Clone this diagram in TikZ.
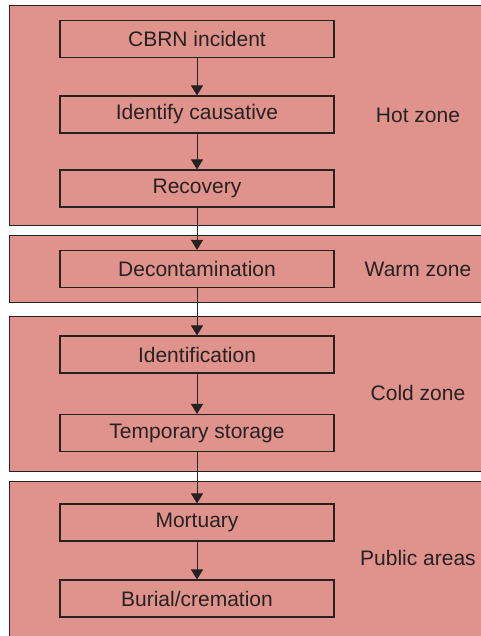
\documentclass[tikz,border=0pt]{standalone}
\usepackage{fontspec}
\setmainfont{Liberation Sans}
\usetikzlibrary{arrows.meta}
\definecolor{zonefill}{RGB}{224,146,140}
\definecolor{ink}{RGB}{38,34,34}
\begin{document}
\begin{tikzpicture}[x=1pt,y=-1pt,
  zone/.style={fill=zonefill,draw=ink,line width=0.9pt},
  stepbox/.style={draw=ink,line width=1.1pt,minimum width=274pt,minimum height=37pt,
    inner sep=0pt,font=\fontsize{21}{25}\selectfont,text=ink},
  zonelabel/.style={font=\fontsize{21}{25}\selectfont,text=ink},
  flow/.style={draw=ink,line width=0.9pt,-{Triangle[width=12pt,length=10pt]}}]
\useasboundingbox (0,0) rectangle (481,636);
\begin{scope}
\clip (0,0) rectangle (481,636);
% zone bands, open on the right and (for the last one) at the bottom
\draw[zone] (485,5.5) -- (9,5.5) -- (9,225.5) -- (485,225.5);
\draw[zone] (485,235) -- (9,235) -- (9,302.5) -- (485,302.5);
\draw[zone] (485,316) -- (9,316) -- (9,471.5) -- (485,471.5);
\draw[zone] (485,481) -- (9,481) -- (9,640) -- (485,640);
\end{scope}
% process steps
\node[stepbox] (cbrn)  at (197,39)  {CBRN incident};
\node[stepbox] (ident) at (197,114.5) {Identify causative};
\node[stepbox] (recov) at (197,188.5) {Recovery};
\node[stepbox] (decon) at (197,269)  {Decontamination};
\node[stepbox] (idn)   at (197,354.5) {Identification};
\node[stepbox] (temp)  at (197,433)  {Temporary storage};
\node[stepbox] (mort)  at (197,522.5) {Mortuary};
\node[stepbox] (buri)  at (197,598.5) {Burial/cremation};
% zone names
\node[zonelabel] (hot)  at (418,115) {Hot zone};
\node[zonelabel] (warm) at (418,269) {Warm zone};
\node[zonelabel] (cold) at (418,393) {Cold zone};
\node[zonelabel] (pub)  at (418,558) {Public areas};
% connectors
\draw[flow] (cbrn) -- (ident);
\draw[flow] (ident) -- (recov);
\draw[flow] (recov) -- (decon);
\draw[flow] (decon) -- (idn);
\draw[flow] (idn) -- (temp);
\draw[flow] (temp) -- (mort);
\draw[flow] (mort) -- (buri);
\end{tikzpicture}
\end{document}
